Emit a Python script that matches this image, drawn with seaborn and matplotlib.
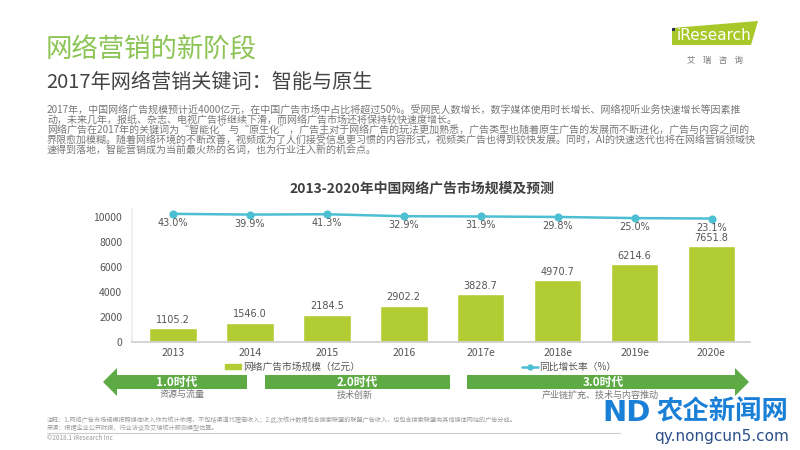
import numpy as np
import pandas as pd
import seaborn as sns
import matplotlib.pyplot as plt
from matplotlib.patches import Polygon, Rectangle
from matplotlib.lines import Line2D

# data
years = ['2013', '2014', '2015', '2016', '2017e', '2018e', '2019e', '2020e']
market = [1105.2, 1546.0, 2184.5, 2902.2, 3828.7, 4970.7, 6214.6, 7651.8]
growth = [43.0, 39.9, 41.3, 32.9, 31.9, 29.8, 25.0, 23.1]
yticks = [0, 2000, 4000, 6000, 8000, 10000]

eras = ['1.0时代', '2.0时代', '3.0时代']
era_notes = ['资源与流量', '技术创新', '产业链扩充、技术与内容推动']

body = [
    '2017年，中国网络广告规模预计近4000亿元，在中国广告市场中占比将超过50%。受网民人数增长，数字媒体使用时长增长、网络视听业务快速增长等因素推',
    '动，未来几年，报纸、杂志、电视广告将继续下滑，而网络广告市场还将保持较快速度增长。',
    '网络广告在2017年的关键词为“智能化”与“原生化”，广告主对于网络广告的玩法更加熟悉，广告类型也随着原生广告的发展而不断进化，广告与内容之间的',
    '界限愈加模糊。随着网络环境的不断改善，视频成为了人们接受信息更习惯的内容形式，视频类广告也得到较快发展。同时，AI的快速迭代也将在网络营销领域快',
    '速得到落地，智能营销成为当前最火热的名词，也为行业注入新的机会点。',
]
notes = [
    '注释：1.网络广告市场规模按照媒体收入作为统计依据，不包括渠道代理商收入；2.此次统计数据包含搜索联盟的联盟广告收入，也包含搜索联盟向其他媒体网站的广告分成。',
    '来源：根据企业公开财报、行业访谈及艾瑞统计预测模型估算。',
]

BAR = '#b2cc34'
LINE = '#4cbfd2'
ARROW = '#5eab45'

sns.set_theme(style='white')
plt.rcParams['font.family'] = ['Noto Sans CJK SC', 'DejaVu Sans']

W, H = 800, 450
fig = plt.figure(figsize=(8, 4.5), dpi=100)


def P(x, y):
    return (x / W, 1 - y / H)


# headings
fig.text(*P(46, 50), '网络营销的新阶段', fontsize=19, color='#8cc455', va='center')
fig.text(*P(46, 83), '2017年网络营销关键词：智能与原生', fontsize=14.5, color='#444444', va='center')
for i, line in enumerate(body):
    fig.text(*P(47, 111 + i * 10), line, fontsize=7.2, color='#777777', va='center')

# logo
fig.add_artist(Polygon([P(672, 28), P(758, 21), P(751, 45), P(672, 45)],
                       closed=True, transform=fig.transFigure, color='#a8c82a', lw=0))
fig.text(*P(714, 35), 'iResearch', fontsize=11, color='white', ha='center', va='center',
         family='DejaVu Sans')
fig.add_artist(Rectangle(P(672, 31), 3 / W, 3 / H, transform=fig.transFigure, color='#2b2f5a', lw=0))
fig.text(*P(715, 60), '艾    瑞    咨    询', fontsize=6, color='#777777', ha='center', va='center')

# chart
fig.text(*P(422, 188), '2013-2020年中国网络广告市场规模及预测', fontsize=10, weight='bold',
         color='#404040', ha='center', va='center')

df = pd.DataFrame({'year': years, 'market': market, 'growth': growth})
ax = fig.add_axes([132 / W, 1 - 342 / H, 618 / W, 132.5 / H])
sns.barplot(data=df, x='year', y='market', color=BAR, saturation=1, width=0.62, ax=ax)
ax.set_ylim(0, 10600)
ax.set_yticks(yticks)
ax.set_xlabel('')
ax.set_ylabel('')
ax.tick_params(axis='both', length=0, labelsize=7.5, labelcolor='#555555')
ax.tick_params(axis='y', pad=7)
ax.tick_params(axis='x', pad=4)
for s in ['top', 'right']:
    ax.spines[s].set_visible(False)
ax.spines['bottom'].set_color('#cfcfcf')
ax.spines['left'].set_color('#ececec')
for i, v in enumerate(market):
    ax.annotate(f'{v:.1f}', (i, v), xytext=(0, 6), textcoords='offset points',
                ha='center', va='center', fontsize=7, color='#555555', family='DejaVu Sans')

ax2 = ax.twinx()
sns.pointplot(data=df, x='year', y='growth', color=LINE, markers='o', markersize=4.5,
              linewidth=1.8, ax=ax2)
ax2.set_ylim(-500, 61.4)
ax2.set_axis_off()
for i, g in enumerate(growth):
    ax2.annotate(f'{g:.1f}%', (i, g), xytext=(0, -6.5), textcoords='offset points',
                 ha='center', va='center', fontsize=7, color='#555555', family='DejaVu Sans')
ax.set_xlim(-0.53, 7.5)
ax2.set_xlim(-0.53, 7.5)

handles = [Rectangle((0, 0), 1, 1, color=BAR),
           Line2D([], [], color=LINE, marker='o', markersize=3.5, lw=1.8)]
fig.legend(handles, ['网络广告市场规模（亿元）', '同比增长率（%）'], loc='center',
           bbox_to_anchor=P(421, 367), ncols=2, frameon=False, fontsize=7,
           labelcolor='#555555', columnspacing=16.7, handlelength=1.6, handleheight=0.5,
           handletextpad=0.2)

# era arrows
shapes = [
    [(103, 382), (117, 368), (117, 375), (247, 375), (247, 389), (117, 389), (117, 396)],
    [(265, 375), (450, 375), (450, 389), (265, 389)],
    [(467, 375), (735, 375), (735, 368), (749, 382), (735, 396), (735, 389), (467, 389)],
]
label_x = [177, 357, 603]
note_x = [182, 355, 600]
for pts, era, note, lx, nx in zip(shapes, eras, era_notes, label_x, note_x):
    fig.add_artist(Polygon([P(x, y) for x, y in pts], closed=True,
                           transform=fig.transFigure, color=ARROW, lw=0))
    fig.text(*P(lx, 382), era, fontsize=8.5, weight='bold', color='white', ha='center', va='center')
    fig.text(*P(nx, 395), note, fontsize=6.5, color='#777777', ha='center', va='center')

# footnotes
fig.text(*P(47, 420), notes[0], fontsize=4.4, color='#9a9a9a', va='center')
fig.text(*P(47, 428), notes[1], fontsize=4.4, color='#9a9a9a', va='center')
fig.add_artist(Line2D([47 / W, 620 / W], [1 - 432.5 / H] * 2, transform=fig.transFigure,
                      color='#cccccc', lw=0.8))
fig.text(*P(47, 438), '©2018.1 iResearch Inc', fontsize=4.6, color='#9a9a9a', va='center')

# watermark
fig.text(*P(627, 413), 'ND', fontsize=21, weight='bold', color='#1a7fd6', ha='center', va='center',
         family='DejaVu Sans')
fig.text(*P(723, 412), '农企新闻网', fontsize=19, weight='bold', color='#1a7fd6', ha='center', va='center')
fig.text(*P(722, 437), 'qy.nongcun5.com', fontsize=11, color='#2c4f8a', ha='center', va='center',
         family='DejaVu Sans')

fig.savefig('out.png', dpi=100)
